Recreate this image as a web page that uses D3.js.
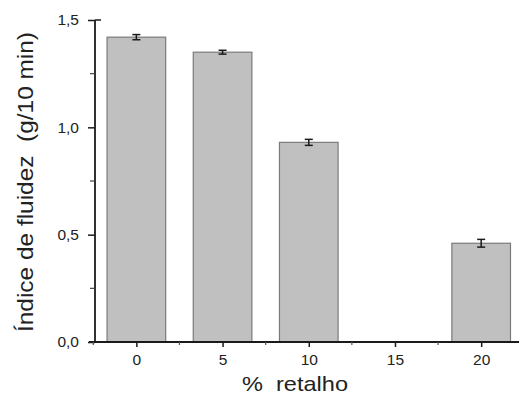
<!DOCTYPE html>
<html>
<head>
<meta charset="utf-8">
<script src="https://cdn.jsdelivr.net/npm/d3@7"></script>
<style>
	body { margin: 0; background: #fff; }
	svg { display: block; font-family: "Liberation Sans", Arial, sans-serif; }
</style>
</head>
<body>
<div id="chart"></div>
<script>
// data
const categories = [0, 5, 10, 15, 20];
const values = [1.42, 1.35, 0.93, null, 0.46];
const errors = [0.012, 0.009, 0.014, null, 0.018];
const yTicks = [0, 0.5, 1.0, 1.5];
const yMinorTicks = [0.25, 0.75, 1.25];
const xMinorTicks = [-2.5, 2.5, 7.5, 12.5, 17.5, 22.5];

const width = 519, height = 397;

const svg = d3.select("#chart")
	.append("svg")
	.attr("width", width)
	.attr("height", height);

// scales
const x = d3.scaleLinear()
	.domain([-2.4, 22.6])
	.range([95, 526]);

const y = d3.scaleLinear()
	.domain([0, 1.5])
	.range([342, 20]);

const barW = x(3.4) - x(0);
const ink = "#1a1a1a";

const data = categories.map((c, i) => ({ cat: c, value: values[i], err: errors[i] }))
	.filter(d => d.value != null);

// bars
svg.selectAll("rect.bar")
	.data(data)
	.enter()
	.append("rect")
	.attr("class", "bar")
	.attr("x", d => x(d.cat) - barW / 2)
	.attr("y", d => y(d.value))
	.attr("width", barW)
	.attr("height", d => y(0) - y(d.value))
	.attr("fill", "#c0c0c0")
	.attr("stroke", "#7a7a7a")
	.attr("stroke-width", 1.2);

// error bars
const eb = svg.selectAll("g.err")
	.data(data)
	.enter()
	.append("g")
	.attr("class", "err")
	.attr("stroke", ink)
	.attr("stroke-width", 1.5);
eb.append("line")
	.attr("x1", d => x(d.cat)).attr("x2", d => x(d.cat))
	.attr("y1", d => y(d.value + d.err)).attr("y2", d => y(d.value - d.err));
eb.append("line")
	.attr("x1", d => x(d.cat) - 4).attr("x2", d => x(d.cat) + 4)
	.attr("y1", d => y(d.value + d.err)).attr("y2", d => y(d.value + d.err));
eb.append("line")
	.attr("x1", d => x(d.cat) - 4).attr("x2", d => x(d.cat) + 4)
	.attr("y1", d => y(d.value - d.err)).attr("y2", d => y(d.value - d.err));

// y axis
const yAxis = svg.append("g")
	.attr("transform", `translate(${x(-2.4)},0)`)
	.call(d3.axisLeft(y).tickValues(yTicks).tickSize(7).tickPadding(9)
		.tickFormat(d => d3.format(".1f")(d).replace(".", ",")));
yAxis.select(".domain").attr("stroke", ink).attr("stroke-width", 1.8)
	.attr("d", `M0,${y(0)}V${y(1.5)}`);
yAxis.selectAll(".tick line").attr("stroke", ink).attr("stroke-width", 1.5);
yAxis.selectAll(".tick text").attr("font-size", "15.5px").attr("fill", "#222");
// cap at the top crosses the axis
yAxis.append("line")
	.attr("x1", 0).attr("x2", 6)
	.attr("y1", y(1.5)).attr("y2", y(1.5))
	.attr("stroke", ink).attr("stroke-width", 1.5);
yAxis.selectAll(".minor")
	.data(yMinorTicks)
	.enter()
	.append("line")
	.attr("class", "minor")
	.attr("x1", -5).attr("x2", 0)
	.attr("y1", d => y(d)).attr("y2", d => y(d))
	.attr("stroke", "#444").attr("stroke-width", 1.2);

// x axis
const xAxis = svg.append("g")
	.attr("transform", `translate(0,${y(0)})`)
	.call(d3.axisBottom(x).tickValues(categories).tickSize(5).tickPadding(7)
		.tickFormat(d3.format("d")));
xAxis.select(".domain").attr("stroke", ink).attr("stroke-width", 1.8)
	.attr("d", `M${x(-2.4) - 6},0H${width + 10}`);
xAxis.selectAll(".tick line").attr("stroke", ink).attr("stroke-width", 1.5);
xAxis.selectAll(".tick text").attr("font-size", "15.5px").attr("fill", "#222");
xAxis.selectAll(".minor")
	.data(xMinorTicks)
	.enter()
	.append("line")
	.attr("class", "minor")
	.attr("x1", d => x(d)).attr("x2", d => x(d))
	.attr("y1", 0).attr("y2", 3)
	.attr("stroke", "#555").attr("stroke-width", 1.2);

// axis titles
svg.append("text")
	.attr("x", 295)
	.attr("y", 391)
	.attr("text-anchor", "middle")
	.attr("font-size", "21px")
	.attr("fill", "#222")
	.attr("xml:space", "preserve")
	.attr("textLength", 106)
	.attr("lengthAdjust", "spacingAndGlyphs")
	.text("%  retalho");

svg.append("text")
	.attr("transform", `translate(33,182) rotate(-90)`)
	.attr("text-anchor", "middle")
	.attr("font-size", "22px")
	.attr("fill", "#222")
	.attr("xml:space", "preserve")
	.attr("textLength", 300)
	.attr("lengthAdjust", "spacingAndGlyphs")
	.text("Índice de fluidez  (g/10 min)");
</script>
</body>
</html>
